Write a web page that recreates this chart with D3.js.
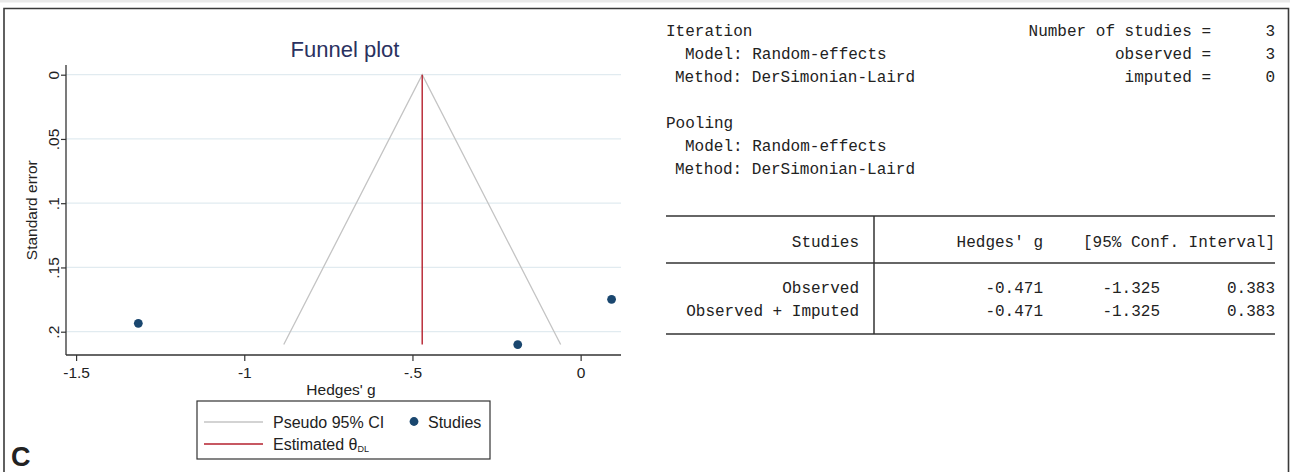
<!DOCTYPE html>
<html>
<head>
<meta charset="utf-8">
<script src="https://cdn.jsdelivr.net/npm/d3@7"></script>
<style>
  html, body { margin: 0; padding: 0; background: #fff; }
  svg { display: block; }
</style>
</head>
<body>
<svg id="chart" width="1290" height="472"></svg>
<script>
// ---------------- data ----------------
const studyG  = [-1.315, -0.187, 0.092];     // Hedges' g of each study
const studySE = [0.1935, 0.2100, 0.1748];    // standard error of each study
const pooledG = -0.471;                      // DerSimonian-Laird estimate
const maxSE = 0.21;                          // funnel depth
const xTicks = [-1.5, -1, -0.5, 0];
const xTickLabels = ["-1.5", "-1", "-.5", "0"];
const yTicks = [0, 0.05, 0.1, 0.15, 0.2];
const yTickLabels = ["0", ".05", ".1", ".15", ".2"];
const legendLabels = ["Pseudo 95% CI", "Studies", "Estimated θ"];

const headerLeft = [
  {t: "Iteration", x: 666, row: 0},
  {t: "Model: Random-effects", x: 685, row: 1},
  {t: "Method: DerSimonian-Laird", x: 675, row: 2},
  {t: "Pooling", x: 666, row: 4},
  {t: "Model: Random-effects", x: 685, row: 5},
  {t: "Method: DerSimonian-Laird", x: 675, row: 6}
];
const headerRightLabels = ["Number of studies =", "observed =", "imputed ="];
const headerRightValues = ["3", "3", "0"];
const tableHeader = ["Studies", "Hedges' g", "[95% Conf. Interval]"];
const tableRows = ["Observed", "Observed + Imputed"];
const tableG = ["-0.471", "-0.471"];
const tableLo = ["-1.325", "-1.325"];
const tableHi = ["0.383", "0.383"];

// ---------------- drawing ----------------
const svg = d3.select("#chart");
const sans = "'Liberation Sans', Arial, Helvetica, sans-serif";
const mono = "'Liberation Mono', 'DejaVu Sans Mono', monospace";
const fs = "15.5px";

// top gray band and outer frame
svg.append("rect").attr("x", 0).attr("y", 0).attr("width", 1290).attr("height", 2.5).attr("fill", "#e9e9e9");
svg.append("path").attr("d", "M4,472 V8.5 H1288.5 V472")
  .attr("fill", "none").attr("stroke", "#3a3a3a").attr("stroke-width", 1.6);

// scales
const x = d3.scaleLinear().domain([-1.53, 0.12]).range([66, 621]);
const y = d3.scaleLinear().domain([0, 0.2]).range([74.7, 331.7]);
const plotBottom = 355;
const plotLeft = 66;

const g = svg.append("g");

// gridlines
g.selectAll("line.grid").data(yTicks).join("line")
  .attr("class", "grid")
  .attr("x1", plotLeft).attr("x2", x.range()[1])
  .attr("y1", d => y(d)).attr("y2", d => y(d))
  .attr("stroke", "#e1ebf0").attr("stroke-width", 1.3);

// axes
const yAxis = d3.axisLeft(y).tickValues(yTicks).tickFormat((d, i) => yTickLabels[i]).tickSize(5).tickPadding(4);
const yg = g.append("g").attr("transform", `translate(${plotLeft},0)`).call(yAxis);
yg.attr("font-size", null).attr("font-family", null);
yg.select(".domain").attr("d", `M0,${65}V${plotBottom}`).attr("stroke", "#333").attr("stroke-width", 1.3);
yg.selectAll(".tick line").attr("stroke", "#333").attr("stroke-width", 1.2);
yg.selectAll(".tick text")
  .attr("transform", "rotate(-90)")
  .attr("x", 0).attr("y", -7).attr("dy", 0)
  .attr("text-anchor", "middle")
  .attr("font-family", sans).attr("font-size", fs).attr("fill", "#222");

const xAxis = d3.axisBottom(x).tickValues(xTicks).tickFormat((d, i) => xTickLabels[i]).tickSize(6).tickPadding(6);
const xg = g.append("g").attr("transform", `translate(0,${plotBottom})`).call(xAxis);
xg.attr("font-size", null).attr("font-family", null);
xg.select(".domain").attr("d", `M${plotLeft},0H${x.range()[1]}`).attr("stroke", "#333").attr("stroke-width", 1.3);
xg.selectAll(".tick line").attr("stroke", "#333").attr("stroke-width", 1.2);
xg.selectAll(".tick text").attr("font-family", sans).attr("font-size", fs).attr("fill", "#222");

// axis titles
g.append("text").attr("transform", `translate(37,${(y(0) + y(0.2)) / 2 + 7}) rotate(-90)`)
  .attr("text-anchor", "middle").attr("font-family", sans).attr("font-size", fs).attr("fill", "#222")
  .text("Standard error");
g.append("text").attr("x", 341).attr("y", 395).attr("text-anchor", "middle")
  .attr("font-family", sans).attr("font-size", fs).attr("fill", "#222")
  .text("Hedges' g");

// title
g.append("text").attr("x", 345).attr("y", 57).attr("text-anchor", "middle")
  .attr("font-family", sans).attr("font-size", "22px").attr("fill", "#2a3160")
  .text("Funnel plot");

// pseudo 95% CI funnel
const funnel = [[pooledG - 1.96 * maxSE, maxSE], [pooledG, 0], [pooledG + 1.96 * maxSE, maxSE]];
g.append("path").datum(funnel)
  .attr("d", d3.line().x(d => x(d[0])).y(d => y(d[1])))
  .attr("fill", "none").attr("stroke", "#c4c4c4").attr("stroke-width", 1.3);

// estimated theta line
g.append("line").attr("x1", x(pooledG)).attr("x2", x(pooledG))
  .attr("y1", y(0)).attr("y2", y(maxSE))
  .attr("stroke", "#b5202e").attr("stroke-width", 1.4);

// study points
g.selectAll("circle.study").data(studyG).join("circle")
  .attr("class", "study")
  .attr("cx", d => x(d)).attr("cy", (d, i) => y(studySE[i]))
  .attr("r", 4.4).attr("fill", "#1a476f");

// legend
const lg = svg.append("g").attr("font-family", sans).attr("font-size", "16px").attr("fill", "#222");
lg.append("rect").attr("x", 197).attr("y", 401).attr("width", 293).attr("height", 58)
  .attr("fill", "#fff").attr("stroke", "#333").attr("stroke-width", 1.2);
lg.append("line").attr("x1", 204).attr("x2", 263).attr("y1", 422).attr("y2", 422)
  .attr("stroke", "#c4c4c4").attr("stroke-width", 1.3);
lg.append("text").attr("x", 273).attr("y", 428).text(legendLabels[0]);
lg.append("circle").attr("cx", 414).attr("cy", 421.5).attr("r", 4.4).attr("fill", "#1a476f");
lg.append("text").attr("x", 428).attr("y", 428).text(legendLabels[1]);
lg.append("line").attr("x1", 204).attr("x2", 263).attr("y1", 444).attr("y2", 444)
  .attr("stroke", "#b5202e").attr("stroke-width", 1.4);
const t2 = lg.append("text").attr("x", 273).attr("y", 450);
t2.append("tspan").text(legendLabels[2]);
t2.append("tspan").attr("dy", 2).attr("font-size", "9px").text("DL");

// panel letter
svg.append("text").attr("x", 11).attr("y", 466).attr("font-family", sans).attr("font-size", "27px")
  .attr("font-weight", "bold").attr("fill", "#222").text("C");

// ---------------- right-hand Stata output ----------------
const rt = svg.append("g").attr("font-family", mono).attr("font-size", "16px").attr("fill", "#222");
const rowY = r => 36 + r * 23;

rt.selectAll("text.hl").data(headerLeft).join("text").attr("class", "hl")
  .attr("x", d => d.x).attr("y", d => rowY(d.row)).text(d => d.t);
rt.selectAll("text.hr").data(headerRightLabels).join("text").attr("class", "hr")
  .attr("x", 1211).attr("y", (d, i) => rowY(i)).attr("text-anchor", "end").text(d => d);
rt.selectAll("text.hv").data(headerRightValues).join("text").attr("class", "hv")
  .attr("x", 1275).attr("y", (d, i) => rowY(i)).attr("text-anchor", "end").text(d => d);

// table rules
const lineCol = "#333";
rt.append("line").attr("x1", 666).attr("x2", 1275).attr("y1", 216).attr("y2", 216).attr("stroke", lineCol).attr("stroke-width", 1.5);
rt.append("line").attr("x1", 666).attr("x2", 1275).attr("y1", 263).attr("y2", 263).attr("stroke", lineCol).attr("stroke-width", 1.5);
rt.append("line").attr("x1", 666).attr("x2", 1275).attr("y1", 334).attr("y2", 334).attr("stroke", lineCol).attr("stroke-width", 1.5);
rt.append("line").attr("x1", 874).attr("x2", 874).attr("y1", 216).attr("y2", 334).attr("stroke", lineCol).attr("stroke-width", 1.5);

const headX = [859, 1043, 1275];
rt.selectAll("text.th").data(tableHeader).join("text").attr("class", "th")
  .attr("x", (d, i) => headX[i]).attr("y", 247).attr("text-anchor", "end").text(d => d);

const rowsY = [293, 316];
rt.selectAll("text.tr").data(tableRows).join("text").attr("class", "tr")
  .attr("x", 859).attr("y", (d, i) => rowsY[i]).attr("text-anchor", "end").text(d => d);
rt.selectAll("text.tg").data(tableG).join("text").attr("class", "tg")
  .attr("x", 1043).attr("y", (d, i) => rowsY[i]).attr("text-anchor", "end").text(d => d);
rt.selectAll("text.tl").data(tableLo).join("text").attr("class", "tl")
  .attr("x", 1160).attr("y", (d, i) => rowsY[i]).attr("text-anchor", "end").text(d => d);
rt.selectAll("text.th2").data(tableHi).join("text").attr("class", "th2")
  .attr("x", 1275).attr("y", (d, i) => rowsY[i]).attr("text-anchor", "end").text(d => d);
</script>
</body>
</html>
